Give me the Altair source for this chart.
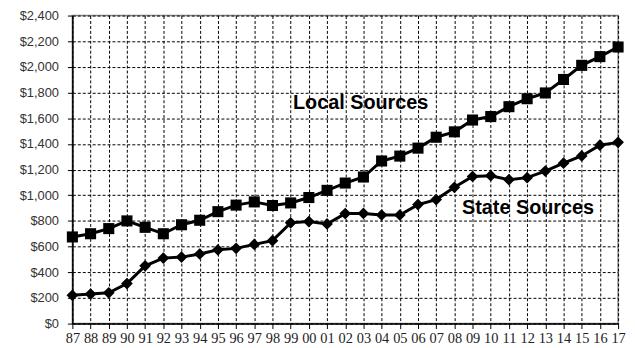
import altair as alt
import pandas as pd

years = list(range(1987, 2018))
local_sources = [675, 700, 740, 800, 750, 700, 770, 805, 872, 923, 948, 920, 940,
                 982, 1038, 1095, 1142, 1267, 1305, 1367, 1452, 1494, 1586, 1613,
                 1690, 1752, 1797, 1902, 2012, 2080, 2155]
state_sources = [220, 230, 240, 312, 450, 510, 518, 542, 575, 586, 617, 646, 785,
                 795, 776, 857, 858, 846, 846, 927, 966, 1062, 1146, 1152, 1121,
                 1137, 1188, 1250, 1306, 1390, 1412]

label_text = ["Local Sources", "State Sources"]
label_x = [2002.85, 2012.05]
label_y = [1715, 900]

df_local = pd.DataFrame({"year": years, "value": local_sources})
df_state = pd.DataFrame({"year": years, "value": state_sources})
df_labels = pd.DataFrame({"text": label_text, "year": label_x, "value": label_y})

x_enc = alt.X(
    "year:Q",
    scale=alt.Scale(domain=[1987, 2017], nice=False, zero=False),
    axis=alt.Axis(
        values=years,
        labelExpr="substring(toString(datum.value), 2)",
        title=None,
        grid=True,
        gridColor="black",
        gridDash=[3, 2],
        gridWidth=1,
        gridOpacity=1,
        domainColor="black",
        domainWidth=1.5,
        tickColor="black",
        tickSize=5,
        labelFont="Liberation Sans Narrow",
        labelFontSize=14.5,
        labelColor="#222222",
        labelPadding=3,
        labelFlush=False,
        labelOverlap=False,
    ),
)
y_enc = alt.Y(
    "value:Q",
    scale=alt.Scale(domain=[0, 2400], nice=False),
    axis=alt.Axis(
        values=list(range(0, 2401, 200)),
        format="$,d",
        title=None,
        grid=True,
        gridColor="black",
        gridDash=[3, 2],
        gridWidth=1,
        gridOpacity=1,
        domainColor="black",
        domainWidth=1.5,
        tickColor="black",
        tickSize=5,
        labelFont="Liberation Sans",
        labelFontSize=13,
        labelColor="#333333",
        labelPadding=9,
        labelOverlap=False,
    ),
)

local_line = alt.Chart(df_local).mark_line(
    color="black", strokeWidth=3,
    point=alt.OverlayMarkDef(shape="square", size=125, filled=True, color="black", opacity=1),
).encode(x=x_enc, y=y_enc)

state_line = alt.Chart(df_state).mark_line(
    color="black", strokeWidth=3,
    point=alt.OverlayMarkDef(shape="diamond", size=140, filled=True, color="black", opacity=1),
).encode(x=x_enc, y=y_enc)

labels = alt.Chart(df_labels).mark_text(
    font="Liberation Sans", fontSize=20, fontWeight="bold", color="black",
    align="center", baseline="middle",
).encode(x=x_enc, y=y_enc, text="text:N")

chart = alt.layer(local_line, state_line, labels).properties(
    width=551,
    height=311,
    autosize=alt.AutoSizeParams(type="none"),
    padding={"left": 65, "top": 6, "right": 9, "bottom": 20},
    background="white",
).configure_view(
    stroke="#888888", strokeWidth=1.5,
)

chart.save("out.html", embed_options={"renderer": "svg", "actions": False})
